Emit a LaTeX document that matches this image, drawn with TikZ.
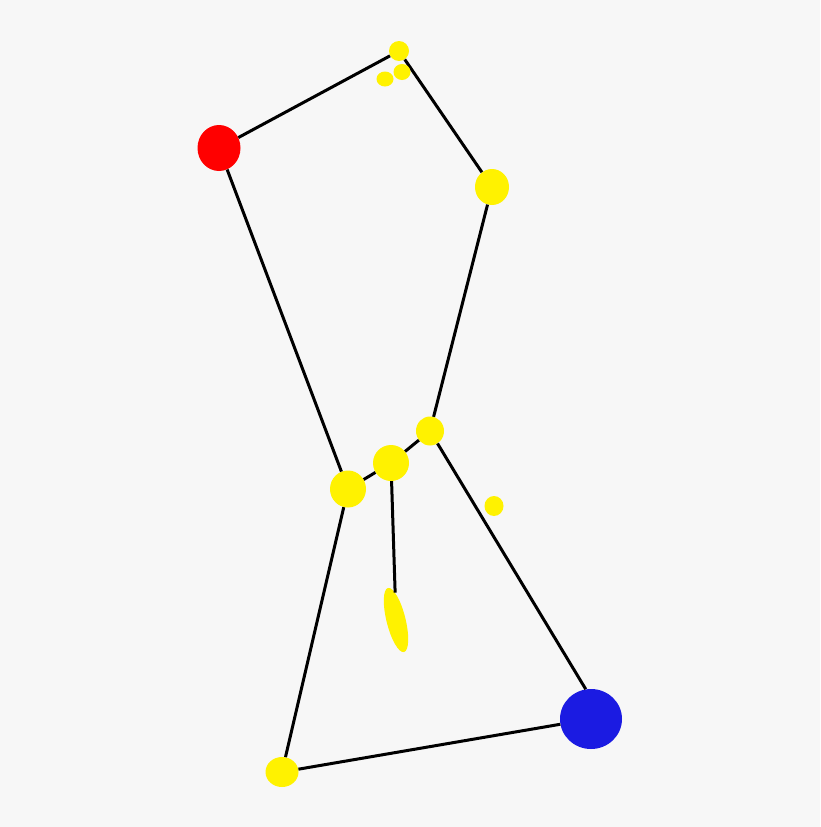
\documentclass[tikz,border=0pt]{standalone}
\usepackage{xcolor}
\usepackage{tikz}
\usetikzlibrary{shapes.geometric}

\definecolor{skybg}{RGB}{247,247,247}
\definecolor{starblue}{RGB}{27,27,226}

\begin{document}
\begin{tikzpicture}[x=1pt, y=-1pt,
    star/.style={ellipse, fill=yellow, draw=none, inner sep=0pt},
    link/.style={line width=3pt, black}]
    \fill[skybg] (0,0) rectangle (820,827);
    \useasboundingbox (0,0) rectangle (820,827);

    % main stars
    \node[star, fill=red, minimum width=43pt, minimum height=46pt] (betelgeuse) at (219,148) {};
    \node[star, minimum width=20pt, minimum height=20pt] (meissa) at (399,51) {};
    \node[star, minimum width=34pt, minimum height=36pt] (bellatrix) at (492,187) {};
    \node[star, minimum width=28pt, minimum height=29pt] (mintaka) at (430,431) {};
    \node[star, minimum width=36pt, minimum height=36pt] (alnilam) at (391,463) {};
    \node[star, minimum width=36pt, minimum height=37pt] (alnitak) at (348,489) {};
    \node[star, fill=starblue, minimum width=62pt, minimum height=60pt] (rigel) at (591,719) {};
    \node[star, minimum width=33pt, minimum height=30pt] (saiph) at (282,772) {};
    \node[star, rotate=14, minimum width=19pt, minimum height=66pt] (nebula) at (396,620) {};

    % figure lines
    \draw[link] (betelgeuse) -- (meissa);
    \draw[link] (meissa) -- (bellatrix);
    \draw[link] (betelgeuse) -- (alnitak);
    \draw[link] (bellatrix) -- (mintaka);
    \draw[link] (mintaka) -- (alnilam) -- (alnitak);
    \draw[link] (mintaka) -- (rigel.100);
    \draw[link] (alnitak) -- (saiph);
    \draw[link] (saiph) -- (rigel);
    \draw[link] (alnilam) -- (nebula);

    % faint stars
    \node[star, minimum width=17pt, minimum height=16pt] (phione) at (402,72) {};
    \node[star, minimum width=17pt, minimum height=15pt] (phitwo) at (385,79) {};
    \node[star, minimum width=19pt, minimum height=20pt] (eta) at (494,506) {};
\end{tikzpicture}
\end{document}
